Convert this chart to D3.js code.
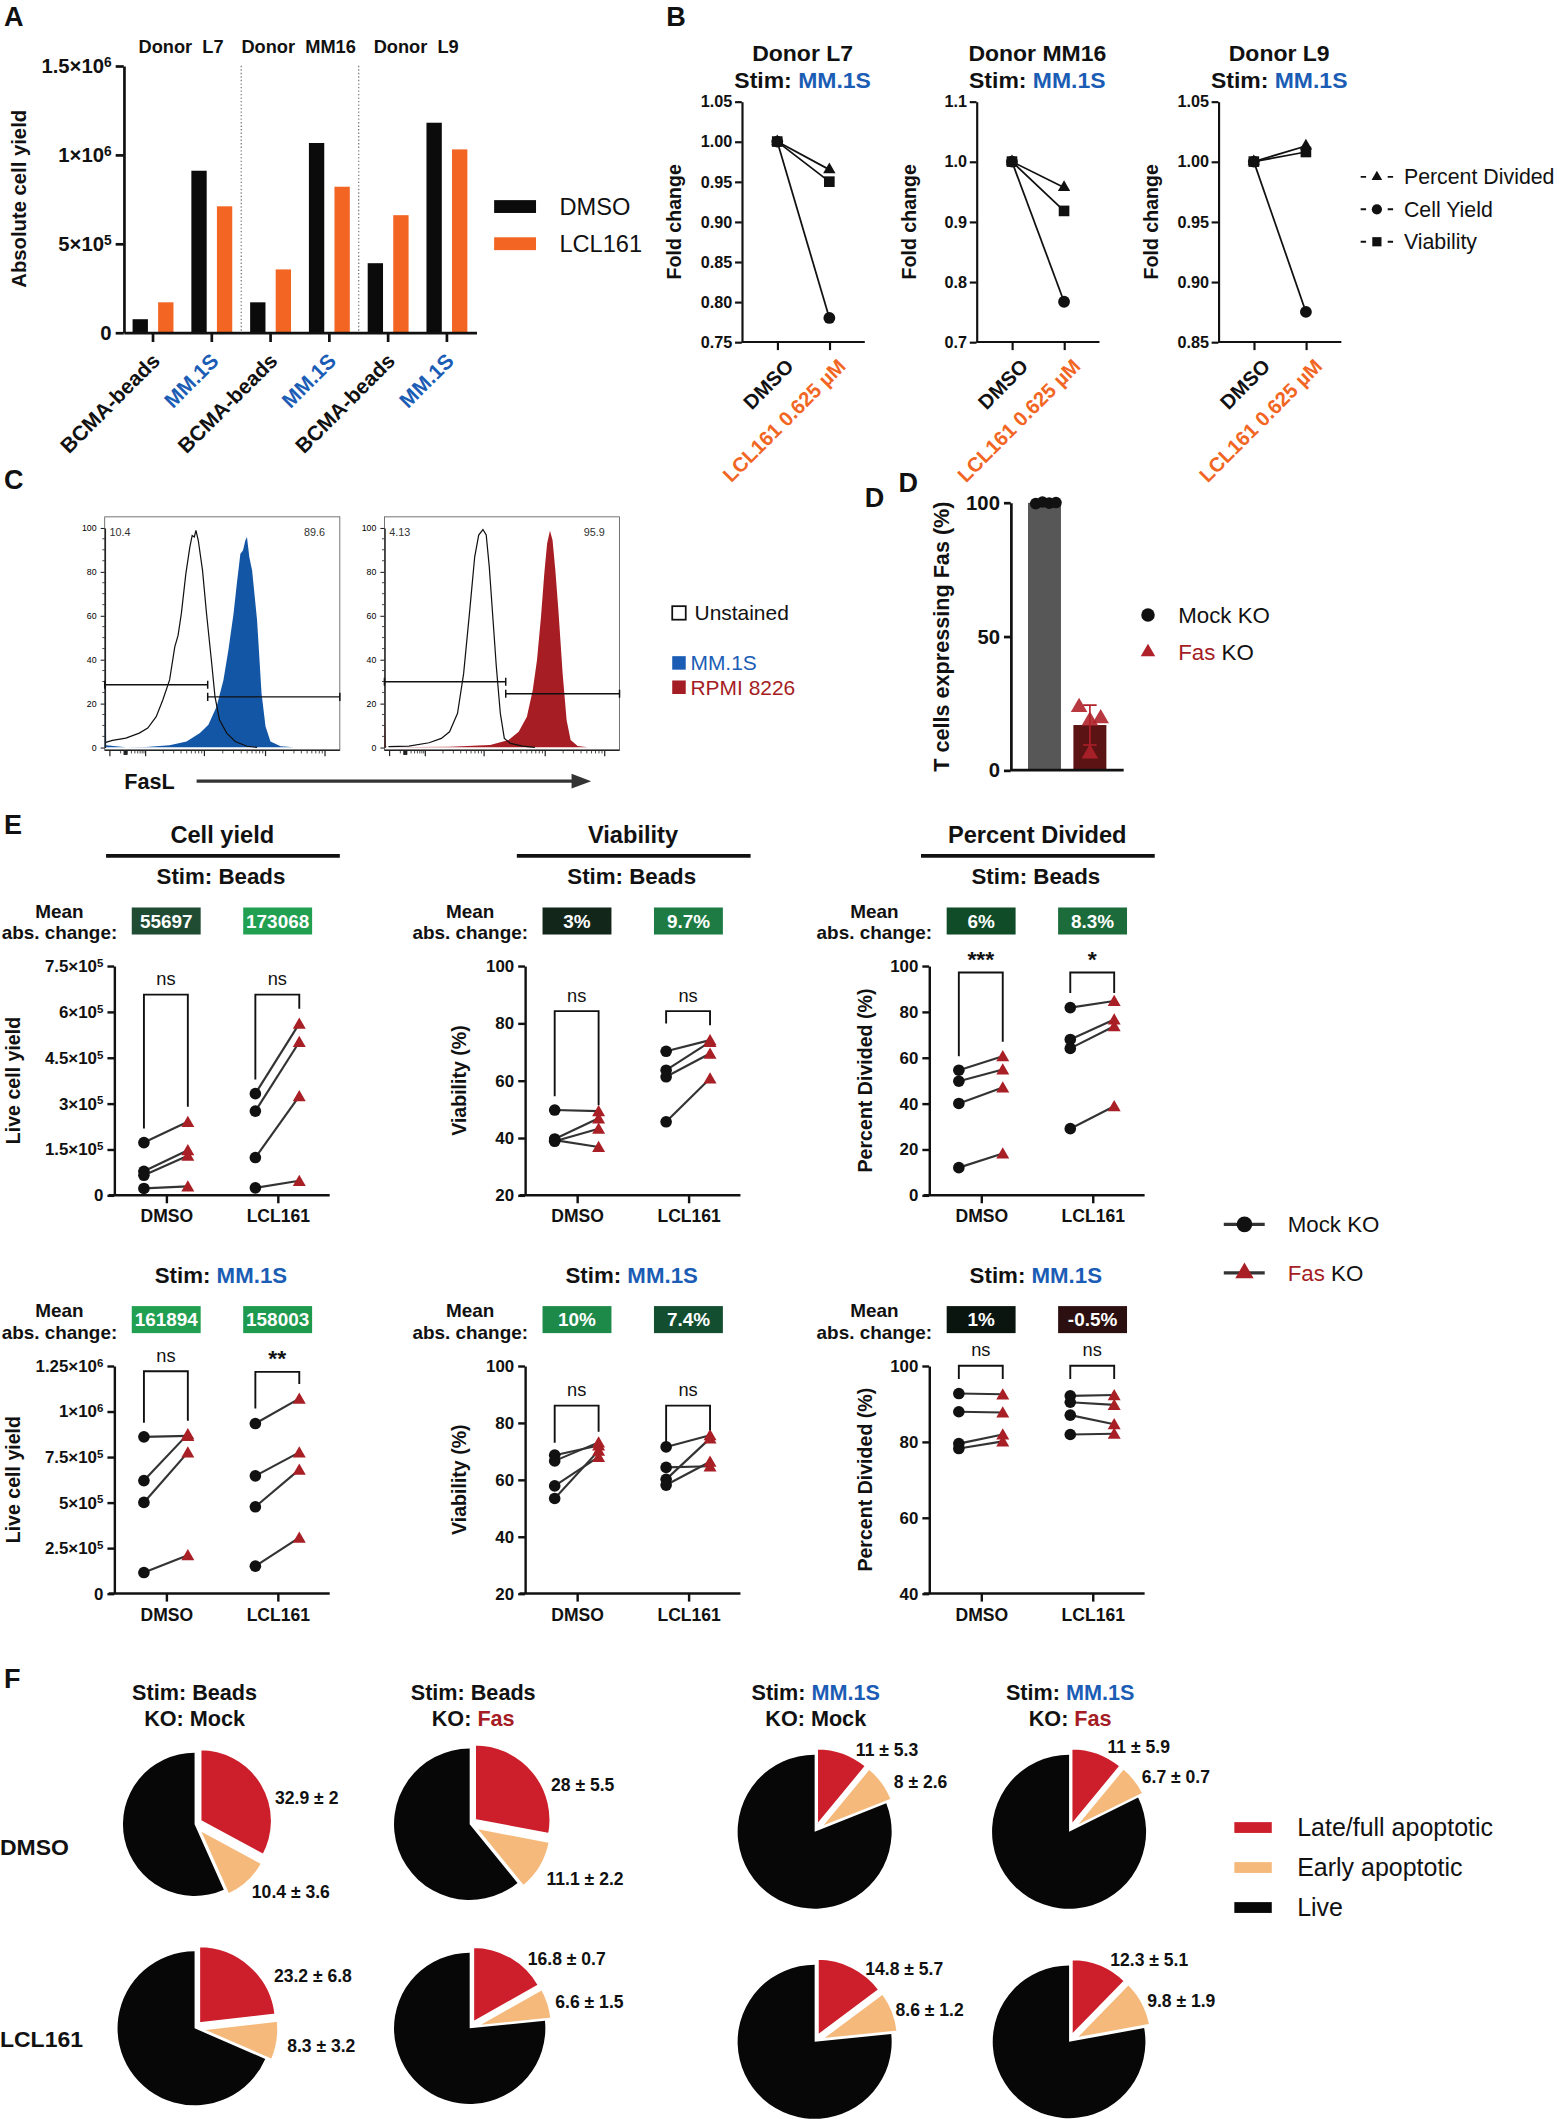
<!DOCTYPE html>
<html>
<head>
<meta charset="utf-8">
<script src="https://cdn.jsdelivr.net/npm/d3@7"></script>
<style>
  body { margin: 0; background: #fff; }
  svg { display: block; }
</style>
</head>
<body>
<script>
// ---------- data ----------
// A: absolute cell yield
const aGroups = ['L7 beads', 'L7 MM.1S', 'MM16 beads', 'MM16 MM.1S', 'L9 beads', 'L9 MM.1S'];
const aTickLabels = ['BCMA-beads', 'MM.1S', 'BCMA-beads', 'MM.1S', 'BCMA-beads', 'MM.1S'];
const aDonors = ['Donor  L7', 'Donor  MM16', 'Donor  L9'];
const aSeries = ['DMSO', 'LCL161'];
const aDMSO = [75000, 910000, 170000, 1066000, 390000, 1180000];
const aLCL161 = [170000, 710000, 355000, 820000, 660000, 1030000];
const aYTicks = [0, 500000, 1000000, 1500000];
const aYTickLabels = ['0', '5×10^5', '1×10^6', '1.5×10^6'];

// B: fold change, stim MM.1S
const bDonors = ['Donor L7', 'Donor MM16', 'Donor L9'];
const bConds = ['DMSO', 'LCL161 0.625 µM'];
const bMeasures = ['Percent Divided', 'Cell Yield', 'Viability'];
const bDMSO = [1, 1, 1];
const bPercentDivided = [0.965, 0.957, 1.013];
const bCellYield = [0.78, 0.767, 0.875];
const bViability = [0.95, 0.918, 1.008];
const bYDomains = [[0.75, 1.05], [0.7, 1.1], [0.85, 1.05]];
const bYTicks = [[0.75, 0.8, 0.85, 0.9, 0.95, 1.0, 1.05], [0.7, 0.8, 0.9, 1.0, 1.1], [0.85, 0.9, 0.95, 1.0, 1.05]];
const bYFormats = ['.2f', '.1f', '.2f'];

// C: FasL histograms (x = fraction of log axis, y = % of max)
const cUnstainedA = [[0.004,2.3],[0.033,3.2],[0.09,4.2],[0.147,6.5],[0.183,8.8],[0.219,14],[0.247,21.6],[0.276,30.7],[0.298,45.8],[0.312,51],[0.326,61],[0.345,79],[0.362,91.2],[0.372,96.5],[0.381,95.8],[0.388,98.8],[0.398,94.2],[0.416,80.6],[0.433,61],[0.455,38.3],[0.469,23.1],[0.488,12.6],[0.519,6.5],[0.555,2.7],[0.605,0.5],[0.648,0]];
const cMM1S = [[0,0],[0.002,62],[0.006,1],[0.09,0],[0.176,0.2],[0.276,1],[0.348,2.7],[0.405,6.5],[0.441,10.3],[0.476,18.6],[0.505,30.7],[0.526,44.3],[0.548,61],[0.562,74.6],[0.577,88.2],[0.588,89.7],[0.598,94.2],[0.605,95.8],[0.615,86.7],[0.627,80.6],[0.648,57.9],[0.667,24.7],[0.684,9.5],[0.705,2.7],[0.748,0.5],[0.805,0]];
const cUnstainedB = [[0.017,0.3],[0.104,0.6],[0.19,2.1],[0.242,4.1],[0.277,7.1],[0.311,15.5],[0.337,33.7],[0.363,62.5],[0.384,86.8],[0.401,96.7],[0.419,99.2],[0.433,96.7],[0.446,82.2],[0.462,58],[0.476,36.7],[0.493,15.5],[0.51,4.1],[0.536,1.8],[0.588,0.6],[0.64,0]];
const cRPMI = [[0,0],[0.002,15],[0.006,1],[0.009,0],[0.277,0.3],[0.45,1.1],[0.528,3.3],[0.571,7.1],[0.606,14],[0.631,26.1],[0.649,39.8],[0.666,59.5],[0.68,79.2],[0.692,92.9],[0.704,98.6],[0.715,94.4],[0.727,80.7],[0.74,62.5],[0.758,33.7],[0.775,12.4],[0.792,3.3],[0.822,0.6],[0.865,0]];
const cGateSplit = [0.438, 0.516];
const cGateLow = [28.5, 29.9];
const cGateHigh = [23, 24.4];
const cPctLow = ['10.4', '4.13'];
const cPctHigh = ['89.6', '95.9'];
const cLegend = ['Unstained', 'MM.1S', 'RPMI 8226'];

// D: Fas expression
const dGroups = ['Mock KO', 'Fas KO'];
const dMock = [99.6, 100.2, 99.8, 100];
const dFas = [23.5, 18.5, 19.3, 6.2];

// E: paired Mock KO / Fas KO values, [DMSO, LCL161]
const eCats = ['DMSO', 'LCL161'];
const eBeadsYieldMock = [[172000, 78000, 65000, 22000], [332000, 275000, 123000, 24000]];
const eBeadsYieldFas = [[240000, 147000, 129000, 29000], [561000, 501000, 324000, 47000]];
const eBeadsViabMock = [[49.7, 39.6, 38.8, 39.2], [70.2, 63.6, 61.3, 45.6]];
const eBeadsViabFas = [[49.3, 46.8, 43.2, 36.8], [74.1, 73.5, 69.4, 60.7]];
const eBeadsDivMock = [[54.5, 49.7, 40, 12], [81.8, 67.9, 64, 29]];
const eBeadsDivFas = [[60.6, 54.8, 47, 18.2], [84.7, 76.6, 73.7, 38.8]];
const eMMYieldMock = [[860000, 620000, 500000, 115000], [933000, 646000, 476000, 150000]];
const eMMYieldFas = [[865000, 875000, 775000, 210000], [1070000, 775000, 680000, 307000]];
const eMMViabMock = [[68.6, 66.6, 57.8, 53.4], [71.5, 64.3, 60.1, 58.1]];
const eMMViabFas = [[72.0, 73.1, 68.0, 70.2], [75.6, 64.7, 74.5, 66.3]];
const eMMDivMock = [[92.7, 87.9, 79.5, 78.2], [92.1, 90.4, 87, 81.9]];
const eMMDivFas = [[92.5, 87.7, 81.9, 80.1], [92.3, 89.7, 84.6, 82.1]];
// significance brackets: [top, left leg end, right leg end]
const eBeadsYieldBr = [[656000, 218000, 289000], [656000, 378000, 610000]];
const eBeadsViabBr = [[84.2, 54.5, 51.4], [84.2, 79.9, 79.3]];
const eBeadsDivBr = [[97.1, 60.6, 66.9], [97.1, 88.2, 88.2]];
const eMMYieldBr = [[1220000, 937000, 948000], [1217000, 1016000, 1150000]];
const eMMViabBr = [[86, 73, 76.8], [86, 73, 77.4]];
const eMMDivBr = [[100, 96.5, 96.5], [100, 96.5, 96.5]];
const eBeadsYieldSig = ['ns', 'ns'], eBeadsViabSig = ['ns', 'ns'], eBeadsDivSig = ['***', '*'];
const eMMYieldSig = ['ns', '**'], eMMViabSig = ['ns', 'ns'], eMMDivSig = ['ns', 'ns'];
const eBeadsYieldChange = ['55697', '173068'], eBeadsViabChange = ['3%', '9.7%'], eBeadsDivChange = ['6%', '8.3%'];
const eMMYieldChange = ['161894', '158003'], eMMViabChange = ['10%', '7.4%'], eMMDivChange = ['1%', '-0.5%'];
const eBeadsYieldColors = ['#214c34', '#22a052'], eBeadsViabColors = ['#12261a', '#1d7b43'], eBeadsDivColors = ['#0f4c27', '#1c6b3b'];
const eMMYieldColors = ['#21a052', '#1e9a4e'], eMMViabColors = ['#1e8a49', '#144e30'], eMMDivColors = ['#0b150f', '#2c1011'];
const eYieldBeadsTicks = [0, 150000, 300000, 450000, 600000, 750000];
const eYieldBeadsLabels = ['0', '1.5×10^5', '3×10^5', '4.5×10^5', '6×10^5', '7.5×10^5'];
const eYieldMMTicks = [0, 250000, 500000, 750000, 1000000, 1250000];
const eYieldMMLabels = ['0', '2.5×10^5', '5×10^5', '7.5×10^5', '1×10^6', '1.25×10^6'];

// F: apoptosis pies, order: row DMSO (4 pies) then row LCL161 (4 pies)
const fSlices = ['Late/full apoptotic', 'Early apoptotic', 'Live'];
const fLate = [32.9, 28, 11, 11, 23.2, 16.8, 14.8, 12.3];
const fLateSD = [2, 5.5, 5.3, 5.9, 6.8, 0.7, 5.7, 5.1];
const fEarly = [10.4, 11.1, 8, 6.7, 8.3, 6.6, 8.6, 9.8];
const fEarlySD = [3.6, 2.2, 2.6, 0.7, 3.2, 1.5, 1.2, 1.9];
const fStim = ['Beads', 'Beads', 'MM.1S', 'MM.1S'];
const fKO = ['Mock', 'Fas', 'Mock', 'Fas'];
const fRows = ['DMSO', 'LCL161'];

// ---------- setup ----------
const INK = '#111';
const BLUE = '#1b5db5';
const ORANGE = '#f26522';
const FASRED = '#a51d24';
const FONT = "'Liberation Sans', Arial, Helvetica, sans-serif";

const svg = d3.select('body').append('svg')
  .attr('width', 1562).attr('height', 2119)
  .attr('viewBox', '0 0 1156 1568')
  .style('font-family', FONT);

function txt(g, x, y, s, size, o) {
  o = o || {};
  const t = g.append('text').attr('x', x).attr('y', y)
    .attr('font-size', size)
    .attr('font-weight', o.weight || 'bold')
    .attr('text-anchor', o.anchor || 'middle')
    .attr('fill', o.fill || INK)
    .style('white-space', 'pre');
  if (o.rotate != null) t.attr('transform', `rotate(${o.rotate},${x},${y})`);
  if (o.dy) t.attr('dy', o.dy);
  if (Array.isArray(s)) s.forEach(p => t.append('tspan').attr('fill', p[1] || INK).text(p[0]));
  else t.text(s);
  return t;
}

function sciText(t, s) {
  t.text(null);
  const parts = s.split('^');
  t.append('tspan').text(parts[0]);
  if (parts[1]) t.append('tspan').attr('dy', '-0.45em').attr('font-size', '68%').text(parts[1]);
}

function styleAxis(g, size, sw) {
  g.attr('font-family', FONT).attr('font-size', size).attr('font-weight', 'bold');
  g.select('.domain').attr('stroke', INK).attr('stroke-width', sw);
  g.selectAll('.tick line').attr('stroke', INK).attr('stroke-width', sw);
  g.selectAll('.tick text').attr('fill', INK);
}

// ---------- panel A ----------
const gA = svg.append('g');
txt(gA, 3, 19, 'A', 20, {anchor: 'start'});
const ax0 = d3.scaleBand().domain(aGroups).range([91.5, 352.5]);
const ax1 = d3.scaleBand().domain(aSeries).range([0, ax0.bandwidth()]).paddingInner(0.4).paddingOuter(0.35);
const ay = d3.scaleLinear().domain([0, 1500000]).range([246, 48.6]);
const aColor = d3.scaleOrdinal().domain(aSeries).range(['#0b0b0b', ORANGE]);

gA.selectAll('line.sep').data([aGroups[2], aGroups[4]]).join('line')
  .attr('x1', d => ax0(d)).attr('x2', d => ax0(d))
  .attr('y1', ay(1500000)).attr('y2', ay(0))
  .attr('stroke', '#666').attr('stroke-width', 0.8).attr('stroke-dasharray', '1,1.6');

const aRows = aGroups.map((g, i) => ({g, vals: [aDMSO[i], aLCL161[i]]}));
gA.selectAll('g.grp').data(aRows).join('g')
  .attr('transform', d => `translate(${ax0(d.g)},0)`)
  .selectAll('rect').data(d => aSeries.map((s, j) => ({s, v: d.vals[j]}))).join('rect')
  .attr('x', d => ax1(d.s)).attr('width', ax1.bandwidth())
  .attr('y', d => ay(d.v)).attr('height', d => ay(0) - ay(d.v))
  .attr('fill', d => aColor(d.s));

const aY = gA.append('g').attr('transform', 'translate(91.6,0)')
  .call(d3.axisLeft(ay).tickValues(aYTicks).tickSize(6).tickSizeOuter(0).tickPadding(3).tickFormat((d, i) => aYTickLabels[i]));
styleAxis(aY, 15, 2);
aY.selectAll('.tick text').each(function(d, i) { sciText(d3.select(this), aYTickLabels[i]); });

const aX = gA.append('g').attr('transform', `translate(0,${ay(0)})`)
  .call(d3.axisBottom(ax0).tickSize(7).tickSizeOuter(0).tickFormat(''));
styleAxis(aX, 14, 2);

aGroups.forEach((g, i) => {
  const x = ax0(g) + ax0.bandwidth() / 2 + 6;
  txt(gA, x, 268, aTickLabels[i], 15.5, {anchor: 'end', rotate: -45, fill: aTickLabels[i] === 'MM.1S' ? BLUE : INK});
});
aDonors.forEach((d, k) => {
  const x = ax0(aGroups[2 * k]) + ax0.bandwidth();
  txt(gA, x - 1, 39, d, 13.5);
});
txt(gA, 19, 147, 'Absolute cell yield', 15, {rotate: -90});
aSeries.forEach((s, i) => {
  gA.append('rect').attr('x', 365.7).attr('y', 148 + i * 27.5).attr('width', 31).attr('height', 9.5).attr('fill', aColor(s));
  txt(gA, 414, 159 + i * 27.5, s, 17.5, {anchor: 'start', weight: 'normal'});
});

// ---------- panel B ----------
const gB = svg.append('g');
txt(gB, 493, 19, 'B', 20, {anchor: 'start'});
const bAxisX = [549, 722.7, 901.7];
const bSymbols = [d3.symbolTriangle, d3.symbolCircle, d3.symbolSquare];
const bSymSize = [36, 60, 62];
bDonors.forEach((donor, k) => {
  const x0 = bAxisX[k];
  const bx = d3.scalePoint().domain(bConds).range([x0, x0 + 91]).padding(0.68);
  const by = d3.scaleLinear().domain(bYDomains[k]).range([253, 75]);
  const g = gB.append('g');
  const yg = g.append('g').attr('transform', `translate(${x0},0)`)
    .call(d3.axisLeft(by).tickValues(bYTicks[k]).tickSize(5).tickSizeOuter(0).tickPadding(2).tickFormat(d3.format(bYFormats[k])));
  styleAxis(yg, 12, 1.6);
  const xg = g.append('g').attr('transform', 'translate(0,253)')
    .call(d3.axisBottom(bx).tickSize(6).tickSizeOuter(0).tickFormat(''));
  xg.select('.domain').attr('d', `M${x0},0H${x0 + 91}`);
  styleAxis(xg, 12, 1.6);
  bConds.forEach((c, ci) => {
    txt(g, bx(c) + 13, 272, c, 15, {anchor: 'end', rotate: -45, fill: ci === 0 ? INK : ORANGE});
  });
  const series = [
    [bDMSO[k], bPercentDivided[k]],
    [bDMSO[k], bCellYield[k]],
    [bDMSO[k], bViability[k]]
  ];
  const line = d3.line().x((d, i) => bx(bConds[i])).y(d => by(d));
  g.selectAll('path.ln').data(series).join('path')
    .attr('d', line).attr('fill', 'none').attr('stroke', INK).attr('stroke-width', 1.3);
  series.forEach((s, si) => {
    g.selectAll(null).data(s).join('path')
      .attr('d', d3.symbol().type(bSymbols[si]).size(bSymSize[si]))
      .attr('transform', (d, i) => `translate(${bx(bConds[i])},${by(d)})`)
      .attr('fill', INK);
  });
  txt(g, x0 + 45, 45, donor, 17);
  txt(g, x0 + 45, 65, [['Stim: ', INK], ['MM.1S', BLUE]], 17);
  txt(g, x0 - 45, 164, 'Fold change', 14.5, {rotate: -90});
});
bMeasures.forEach((m, i) => {
  const y = 130.8 + i * 24;
  gB.append('line').attr('x1', 1007).attr('x2', 1031).attr('y1', y).attr('y2', y)
    .attr('stroke', INK).attr('stroke-width', 1.4).attr('stroke-dasharray', '4,16');
  gB.append('path').attr('d', d3.symbol().type(bSymbols[i]).size(bSymSize[i] * 0.75))
    .attr('transform', `translate(1019,${y})`).attr('fill', INK);
  txt(gB, 1039, y + 5.6, m, 15.8, {anchor: 'start', weight: 'normal'});
});

// ---------- panel C ----------
const gC = svg.append('g');
txt(gC, 3, 362, 'C', 20, {anchor: 'start'});
const cBoxX = [77.5, 284.5];
const cHist = [[cUnstainedA, cMM1S], [cUnstainedB, cRPMI]];
const cFill = ['#1456a6', '#a61d23'];
const cMajor = [0.022, 0.174, 0.424, 0.684, 0.937];
cBoxX.forEach((bx0, k) => {
  const g = gC.append('g');
  const cx = d3.scaleLinear().domain([0, 1]).range([bx0, bx0 + 174]);
  const cy = d3.scaleLinear().domain([0, 100]).range([553, 390.5]);
  g.append('rect').attr('x', bx0).attr('y', 382.4).attr('width', 174).attr('height', 172.7)
    .attr('fill', 'none').attr('stroke', '#555').attr('stroke-width', 0.6);
  const area = d3.area().x(d => cx(d[0])).y0(cy(0)).y1(d => cy(d[1]));
  const line = d3.line().x(d => cx(d[0])).y(d => cy(d[1]));
  g.append('path').attr('d', area(cHist[k][1])).attr('fill', cFill[k]);
  g.append('path').attr('d', line(cHist[k][0])).attr('fill', 'none').attr('stroke', '#111').attr('stroke-width', 0.9);
  // y axis
  const yg = g.append('g').attr('transform', `translate(${bx0},0)`)
    .call(d3.axisLeft(cy).tickValues(d3.range(0, 101, 20)).tickSize(3).tickSizeOuter(0).tickPadding(3));
  yg.attr('font-size', 6.5).attr('font-family', FONT);
  yg.select('.domain').attr('stroke', '#222').attr('stroke-width', 1);
  yg.selectAll('.tick line').attr('stroke', '#222').attr('stroke-width', 0.8);
  g.selectAll('line.ymin').data(d3.range(5, 100, 5).filter(v => v % 20)).join('line')
    .attr('x1', bx0 - 1.8).attr('x2', bx0).attr('y1', d => cy(d)).attr('y2', d => cy(d))
    .attr('stroke', '#222').attr('stroke-width', 0.6);
  // x axis ticks (log decades)
  const minors = [];
  for (let j = 1; j < cMajor.length - 1; j++) {
    for (let m = 2; m <= 9; m++) minors.push(cMajor[j] + (cMajor[j + 1] - cMajor[j]) * Math.log10(m));
  }
  for (let m = 2; m <= 9; m++) minors.push(cMajor[0] + (cMajor[1] - cMajor[0]) * Math.log10(m));
  g.append('line').attr('x1', bx0).attr('x2', bx0 + 174).attr('y1', 555.1).attr('y2', 555.1).attr('stroke', '#222').attr('stroke-width', 1);
  g.selectAll('line.xmaj').data(cMajor).join('line')
    .attr('x1', d => cx(d)).attr('x2', d => cx(d)).attr('y1', 555.1).attr('y2', 559.5)
    .attr('stroke', '#222').attr('stroke-width', 0.9);
  g.selectAll('line.xmin').data(minors).join('line')
    .attr('x1', d => cx(d)).attr('x2', d => cx(d)).attr('y1', 555.1).attr('y2', 557.5)
    .attr('stroke', '#222').attr('stroke-width', 0.6);
  g.append('rect').attr('x', cx(0.08)).attr('y', 555.1).attr('width', 3).attr('height', 3.5).attr('fill', '#222');
  // gates
  const gates = [[0, cGateSplit[k], cGateLow[k]], [cGateSplit[k], 1, cGateHigh[k]]];
  gates.forEach(gt => {
    const y = cy(gt[2]);
    g.append('path').attr('d', `M${cx(gt[0])},${y}H${cx(gt[1])}M${cx(gt[0])},${y - 3}V${y + 3}M${cx(gt[1])},${y - 3}V${y + 3}`)
      .attr('stroke', '#111').attr('stroke-width', 1.1).attr('fill', 'none');
  });
  txt(g, bx0 + 3.5, 396.5, cPctLow[k], 8, {anchor: 'start', weight: 'normal', fill: '#333'});
  txt(g, bx0 + 163, 396.5, cPctHigh[k], 8, {anchor: 'end', weight: 'normal', fill: '#333'});
});
txt(gC, 92, 584, 'FasL', 16, {anchor: 'start'});
gC.append('line').attr('x1', 145.5).attr('x2', 425).attr('y1', 578).attr('y2', 578).attr('stroke', '#333').attr('stroke-width', 2.5);
gC.append('path').attr('d', 'M423,572.5L437.5,578L423,583.5Z').attr('fill', '#333');
const cLegColors = [null, BLUE, FASRED];
cLegend.forEach((s, i) => {
  const y = [453.5, 490.5, 508.5][i];
  const r = gC.append('rect').attr('x', 497.5).attr('y', y - 5).attr('width', 10).attr('height', 10);
  if (i === 0) r.attr('fill', 'none').attr('stroke', INK).attr('stroke-width', 1.3);
  else r.attr('fill', cLegColors[i]);
  txt(gC, i === 0 ? 514 : 511, y + 5.5, s, 15.5, {anchor: 'start', weight: 'normal', fill: i === 0 ? INK : cLegColors[i]});
});

// ---------- panel D ----------
const gD = svg.append('g');
txt(gD, 640, 375, 'D', 20, {anchor: 'start'});
txt(gD, 665, 364, 'D', 20, {anchor: 'start'});
const dx = d3.scaleBand().domain(dGroups).range([748, 831.6]).paddingInner(0.274).paddingOuter(0.381);
const dy = d3.scaleLinear().domain([0, 100]).range([569.9, 371.8]);
const dVals = [dMock, dFas];
const dBarColor = ['#575757', '#5c1313'];
dGroups.forEach((grp, i) => {
  gD.append('rect').attr('x', dx(grp)).attr('width', dx.bandwidth())
    .attr('y', dy(d3.mean(dVals[i]))).attr('height', dy(0) - dy(d3.mean(dVals[i])))
    .attr('fill', dBarColor[i]);
});
const dSd = d3.deviation(dFas), dMean = d3.mean(dFas), dcx = dx('Fas KO') + dx.bandwidth() / 2;
gD.append('path').attr('d', `M${dcx},${dy(dMean - dSd)}V${dy(dMean + dSd)}M${dcx - 5},${dy(dMean + dSd)}H${dcx + 5}M${dcx - 5},${dy(dMean - dSd)}H${dcx + 5}`)
  .attr('stroke', '#b0222a').attr('stroke-width', 1.2).attr('fill', 'none');
const dMockOff = [-6.5, -1.5, 3.5, 8.5];
const dFasOff = [-8, 0, 8, 0];
gD.selectAll('circle.dm').data(dMock).join('circle')
  .attr('cx', (d, i) => dx('Mock KO') + dx.bandwidth() / 2 + dMockOff[i]).attr('cy', d => dy(d))
  .attr('r', 4.3).attr('fill', INK);
gD.selectAll('path.df').data(dFas).join('path')
  .attr('d', d3.symbol().type(d3.symbolTriangle).size(65))
  .attr('transform', (d, i) => `translate(${dcx + dFasOff[i]},${dy(d)})`)
  .attr('fill', '#b0222a').attr('fill-opacity', 0.9);
const dYg = gD.append('g').attr('transform', 'translate(748,0)')
  .call(d3.axisLeft(dy).tickValues([0, 50, 100]).tickSize(5).tickSizeOuter(0).tickPadding(3));
styleAxis(dYg, 15, 2);
const dXg = gD.append('g').attr('transform', `translate(0,${dy(0)})`)
  .call(d3.axisBottom(dx).tickSize(0).tickSizeOuter(0).tickFormat(''));
dXg.select('.domain').attr('d', 'M748,0H831.6');
styleAxis(dXg, 15, 2);
txt(gD, 702.5, 471, 'T cells expressing Fas (%)', 16, {rotate: -90});
gD.append('circle').attr('cx', 849.6).attr('cy', 455).attr('r', 5).attr('fill', INK);
txt(gD, 872, 461, 'Mock KO', 16.5, {anchor: 'start', weight: 'normal'});
gD.append('path').attr('d', d3.symbol().type(d3.symbolTriangle).size(50)).attr('transform', 'translate(849.6,482.5)').attr('fill', '#b0222a');
txt(gD, 872, 488.5, [['Fas', FASRED], [' KO', INK]], 16.5, {anchor: 'start', weight: 'normal'});

// ---------- panel E ----------
const gE = svg.append('g');
txt(gE, 3, 617, 'E', 20, {anchor: 'start'});
const eColX = [84.5, 388.5, 687.6];
const eRowTop = [714.7, 1010.7];
const eRowBottom = [884.4, 1179.2];
const eRowStimY = [654, 949.5];
const eRowMeanY = [679, 974.5];
const eRowBoxY = [671.5, 966.5];
const eTitles = ['Cell yield', 'Viability', 'Percent Divided'];
const eYTitles = ['Live cell yield', 'Viability (%)', 'Percent Divided (%)'];
const eYTitleDx = [-70, -43.5, -42.5];
const eStim = [[['Stim: ', INK], ['Beads', INK]], [['Stim: ', INK], ['MM.1S', BLUE]]];

const ePlots = [
  {row: 0, col: 0, mock: eBeadsYieldMock, fas: eBeadsYieldFas, br: eBeadsYieldBr, sig: eBeadsYieldSig, chg: eBeadsYieldChange, cc: eBeadsYieldColors, domain: [0, 750000], ticks: eYieldBeadsTicks, labels: eYieldBeadsLabels},
  {row: 0, col: 1, mock: eBeadsViabMock, fas: eBeadsViabFas, br: eBeadsViabBr, sig: eBeadsViabSig, chg: eBeadsViabChange, cc: eBeadsViabColors, domain: [20, 100], ticks: [20, 40, 60, 80, 100]},
  {row: 0, col: 2, mock: eBeadsDivMock, fas: eBeadsDivFas, br: eBeadsDivBr, sig: eBeadsDivSig, chg: eBeadsDivChange, cc: eBeadsDivColors, domain: [0, 100], ticks: [0, 20, 40, 60, 80, 100]},
  {row: 1, col: 0, mock: eMMYieldMock, fas: eMMYieldFas, br: eMMYieldBr, sig: eMMYieldSig, chg: eMMYieldChange, cc: eMMYieldColors, domain: [0, 1250000], ticks: eYieldMMTicks, labels: eYieldMMLabels},
  {row: 1, col: 1, mock: eMMViabMock, fas: eMMViabFas, br: eMMViabBr, sig: eMMViabSig, chg: eMMViabChange, cc: eMMViabColors, domain: [20, 100], ticks: [20, 40, 60, 80, 100]},
  {row: 1, col: 2, mock: eMMDivMock, fas: eMMDivFas, br: eMMDivBr, sig: eMMDivSig, chg: eMMDivChange, cc: eMMDivColors, domain: [40, 100], ticks: [40, 60, 80, 100]}
];

const tri = d3.symbol().type(d3.symbolTriangle).size(40);
ePlots.forEach(p => {
  const g = gE.append('g');
  const x0 = eColX[p.col];
  const x = d3.scalePoint().domain(eCats).range([x0, x0 + 159.5]).padding(0.467);
  const y = d3.scaleLinear().domain(p.domain).range([eRowBottom[p.row], eRowTop[p.row]]);
  const yg = g.append('g').attr('transform', `translate(${x0},0)`)
    .call(d3.axisLeft(y).tickValues(p.ticks).tickSize(5).tickSizeOuter(0).tickPadding(3));
  styleAxis(yg, 12.5, 1.8);
  if (p.labels) yg.selectAll('.tick text').each(function(d, i) { sciText(d3.select(this), p.labels[i]); });
  const xg = g.append('g').attr('transform', `translate(0,${eRowBottom[p.row]})`)
    .call(d3.axisBottom(x).tickSize(6).tickSizeOuter(0).tickPadding(5));
  xg.select('.domain').attr('d', `M${x0 - 4},0H${x0 + 159.5}`);
  styleAxis(xg, 13, 1.8);

  const pairs = eCats.flatMap((c, ci) => p.mock[ci].map((v, j) => ({c, m: v, f: p.fas[ci][j]})));
  g.selectAll('line.pair').data(pairs).join('line')
    .attr('x1', d => x(d.c) - 16.5).attr('y1', d => y(d.m))
    .attr('x2', d => x(d.c) + 16).attr('y2', d => y(d.f))
    .attr('stroke', '#333').attr('stroke-width', 1.6);
  g.selectAll('circle.m').data(pairs).join('circle')
    .attr('cx', d => x(d.c) - 16.5).attr('cy', d => y(d.m)).attr('r', 4.3).attr('fill', INK);
  g.selectAll('path.f').data(pairs).join('path')
    .attr('d', tri).attr('transform', d => `translate(${x(d.c) + 16},${y(d.f) + 1})`).attr('fill', '#a91f26');

  eCats.forEach((c, ci) => {
    const b = p.br[ci];
    const xl = x(c) - 16.5, xr = x(c) + 16;
    g.append('path').attr('d', `M${xl},${y(b[1])}V${y(b[0])}H${xr}V${y(b[2])}`)
      .attr('fill', 'none').attr('stroke', INK).attr('stroke-width', 1.4);
    const star = p.sig[ci] !== 'ns';
    txt(g, (xl + xr) / 2, y(b[0]) - (star ? 4 : 7), p.sig[ci], star ? 17 : 13.5, {weight: star ? 'bold' : 'normal'});
    g.append('rect').attr('x', x(c) - 25.5).attr('y', eRowBoxY[p.row]).attr('width', 51).attr('height', 20)
      .attr('fill', p.cc[ci]);
    txt(g, x(c), eRowBoxY[p.row] + 15, p.chg[ci], 14, {fill: '#fff'});
  });
  txt(g, x0 - 40.5, eRowMeanY[p.row], 'Mean', 14);
  txt(g, x0 - 40.5, eRowMeanY[p.row] + 16, 'abs. change:', 14);
  txt(g, x0 + 79, eRowStimY[p.row], eStim[p.row], 16.5);
  const yc = (eRowTop[p.row] + eRowBottom[p.row]) / 2;
  txt(g, x0 + eYTitleDx[p.col], yc, eYTitles[p.col], 14.5, {rotate: -90});
  if (p.row === 0) {
    txt(g, x0 + 80, 624, eTitles[p.col], 17.5);
    g.append('line').attr('x1', x0 - 6).attr('x2', x0 + 167).attr('y1', 633.3).attr('y2', 633.3)
      .attr('stroke', INK).attr('stroke-width', 2.6);
  }
});
// E legend
[['Mock KO'], ['Fas KO']].forEach((s, i) => {
  const y = 906 + i * 36;
  gE.append('line').attr('x1', 905.7).attr('x2', 936).attr('y1', y).attr('y2', y).attr('stroke', '#333').attr('stroke-width', 2.4);
  if (i === 0) gE.append('circle').attr('cx', 921).attr('cy', y).attr('r', 5.8).attr('fill', INK);
  else gE.append('path').attr('d', d3.symbol().type(d3.symbolTriangle).size(80)).attr('transform', `translate(921,${y})`).attr('fill', '#a91f26');
  txt(gE, 953, y + 6, i === 0 ? 'Mock KO' : [['Fas', FASRED], [' KO', INK]], 16.5, {anchor: 'start', weight: 'normal'});
});

// ---------- panel F ----------
const gF = svg.append('g');
txt(gF, 3, 1249, 'F', 20, {anchor: 'start'});
const fColors = ['#cc1f2b', '#f5b97b', '#070707'];
const fCX = [144, 347.6, 602.9, 791.2];
const fCY = [[1350, 1350, 1355.5, 1355.5], [1501, 1501, 1511, 1511]];
const fR = [[53, 56, 57, 57], [57, 56, 57, 56.5]];
const fLabelOff = [
  [[59.6, -19.8], [42.4, 50]], [[60.2, -29], [56.9, 40.6]], [[30.5, -60.9], [58.6, -36.9]], [[28.5, -63.1], [53.8, -40.6]],
  [[58.7, -39.3], [68.5, 12.5]], [[43, -51.7], [63.4, -19.6]], [[37.5, -54.3], [59.9, -24]], [[30.5, -61], [57.8, -30.8]]
];
const pieGen = d3.pie().sort(null).value(d => d.v);
const arcGen = d3.arc().innerRadius(0);
fLate.forEach((late, i) => {
  const row = Math.floor(i / 4), col = i % 4;
  const cx = fCX[col], cy = fCY[row][col], r = fR[row][col];
  const arcs = pieGen([{k: 0, v: late}, {k: 1, v: fEarly[i]}, {k: 2, v: 100 - late - fEarly[i]}]);
  gF.selectAll(null).data(arcs).join('path')
    .attr('d', d => arcGen.outerRadius(r)(d))
    .attr('transform', d => {
      const a = (d.startAngle + d.endAngle) / 2, o = d.data.k < 2 ? 5 : 0;
      return `translate(${cx + o * Math.sin(a)},${cy - o * Math.cos(a)})`;
    })
    .attr('fill', d => fColors[d.data.k])
    .attr('stroke', '#fff').attr('stroke-width', d => d.data.k < 2 ? 1.6 : 0);
  const lo = fLabelOff[i];
  txt(gF, cx + lo[0][0], cy + lo[0][1], `${late} ± ${fLateSD[i]}`, 13, {anchor: 'start', dy: '0.36em'});
  txt(gF, cx + lo[1][0], cy + lo[1][1], `${fEarly[i]} ± ${fEarlySD[i]}`, 13, {anchor: 'start', dy: '0.36em'});
});
const fHeadX = [144, 350.2, 603.7, 792];
fHeadX.forEach((x, col) => {
  txt(gF, x, 1258, [['Stim: ', INK], [fStim[col], fStim[col] === 'MM.1S' ? BLUE : INK]], 16);
  txt(gF, x, 1277, [['KO: ', INK], [fKO[col], fKO[col] === 'Fas' ? FASRED : INK]], 16);
});
fRows.forEach((s, i) => txt(gF, 0, [1372.5, 1514.5][i], s, 17, {anchor: 'start'}));
fSlices.forEach((s, i) => {
  const y = 1352.4 + i * 29.6;
  gF.append('rect').attr('x', 913.5).attr('y', y - 4).attr('width', 27.7).attr('height', 8).attr('fill', fColors[i]);
  txt(gF, 960, y + 6.5, s, 18.5, {anchor: 'start', weight: 'normal'});
});
</script>
</body>
</html>
